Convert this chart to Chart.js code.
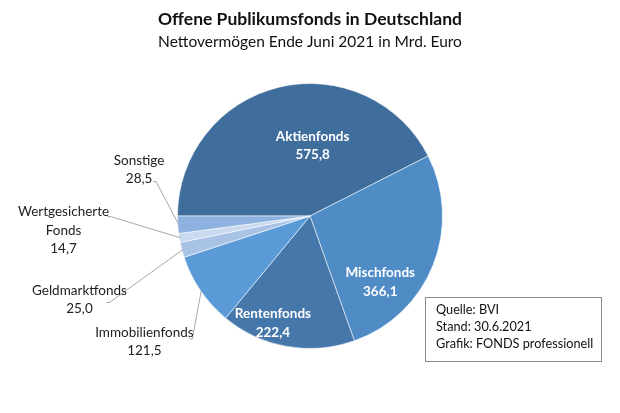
<!DOCTYPE html>
<html>
<head>
<meta charset="utf-8">
<script src="https://cdn.jsdelivr.net/npm/chart.js@4.4.1/dist/chart.umd.min.js"></script>
<style>
  html, body { margin: 0; padding: 0; background: #ffffff; }
  #wrap { width: 620px; height: 413px; position: relative; }
</style>
</head>
<body>
<div id="wrap"><canvas id="c" width="620" height="413"></canvas></div>
<script>
// ---- data ----
const categories = ["Aktienfonds", "Mischfonds", "Rentenfonds", "Immobilienfonds", "Geldmarktfonds", "Wertgesicherte Fonds", "Sonstige"];
const values = [575.8, 366.1, 222.4, 121.5, 25.0, 14.7, 28.5];
const valueLabels = ["575,8", "366,1", "222,4", "121,5", "25,0", "14,7", "28,5"];
const labelLines = [["Aktienfonds"], ["Mischfonds"], ["Rentenfonds"], ["Immobilienfonds"], ["Geldmarktfonds"], ["Wertgesicherte", "Fonds"], ["Sonstige"]];
const titleText = "Offene Publikumsfonds in Deutschland";
const subtitleText = "Nettovermögen Ende Juni 2021 in Mrd. Euro";
const sourceLines = ["Quelle: BVI", "Stand: 30.6.2021", "Grafik: FONDS professionell"];

// ---- styles ----
const colors = ["#3f6d9c", "#4f8cc6", "#4677ab", "#5a9ad7", "#a8c3e5", "#c9d9ef", "#8db2df"];
const FONT = "Lato, 'Open Sans', sans-serif";
// label layout: inside flag, anchor relative to center (in radius units), leader start offsets (px from anchor)
const labelLayout = [
  { inside: true,  fx: 0.02,  fy: -0.53 },
  { inside: true,  fx: 0.53,  fy: 0.50 },
  { inside: true,  fx: -0.28, fy: 0.81 },
  { inside: false, fx: -1.25, fy: 0.95, lx: 48, ly: -3 },
  { inside: false, fx: -1.74, fy: 0.63, lx: 30, ly: 3 },
  { inside: false, fx: -1.86, fy: 0.11, lx: 47, ly: -14 },
  { inside: false, fx: -1.29, fy: -0.35, lx: 17, ly: 12 }
];

const labelPlugin = {
  id: "labels",
  afterDatasetsDraw(chart) {
    const ctx = chart.ctx;
    const meta = chart.getDatasetMeta(0);
    ctx.save();
    // titles
    ctx.fillStyle = "#111";
    ctx.textAlign = "center";
    ctx.textBaseline = "middle";
    ctx.font = "bold 17.5px " + FONT;
    ctx.fillText(titleText, 310, 19);
    ctx.font = "15.5px " + FONT;
    ctx.fillText(subtitleText, 310, 42);

    meta.data.forEach((arc, i) => {
      const p = arc.getProps(["x", "y", "startAngle", "endAngle", "outerRadius"], true);
      const R = p.outerRadius;
      const L = labelLayout[i];
      const ax = p.x + L.fx * R;
      const ay = p.y + L.fy * R;
      const lines = labelLines[i].concat([valueLabels[i]]);
      const lh = 18.5;
      const top = ay - (lines.length - 1) * lh / 2;
      if (L.inside) {
        ctx.fillStyle = "#ffffff";
        ctx.font = "bold 13.5px " + FONT;
      } else {
        ctx.fillStyle = "#222222";
        ctx.font = "13.5px " + FONT;
        // leader line
        const mid = (p.startAngle + p.endAngle) / 2;
        const ex = p.x + Math.cos(mid) * (R - 1);
        const ey = p.y + Math.sin(mid) * (R - 1);
        ctx.strokeStyle = "#a6a6a6";
        ctx.lineWidth = 1;
        ctx.beginPath();
        ctx.moveTo(ax + L.lx - 3, ay + L.ly);
        ctx.lineTo(ax + L.lx, ay + L.ly);
        ctx.lineTo(ex, ey);
        ctx.stroke();
      }
      lines.forEach((t, k) => ctx.fillText(t, ax, top + k * lh));
    });

    // source box
    ctx.strokeStyle = "#8c8c8c";
    ctx.lineWidth = 1;
    ctx.strokeRect(425.5, 297.5, 176, 64);
    ctx.fillStyle = "#111";
    ctx.textAlign = "left";
    ctx.font = "12.7px " + FONT;
    sourceLines.forEach((t, k) => ctx.fillText(t, 436, 310 + k * 17));
    ctx.restore();
  }
};

new Chart(document.getElementById("c"), {
  type: "pie",
  data: {
    labels: categories,
    datasets: [{
      data: values,
      backgroundColor: colors,
      borderColor: "rgba(255,255,255,0.55)",
      borderWidth: 1
    }]
  },
  options: {
    responsive: false,
    animation: false,
    rotation: -90,
    layout: { padding: { left: 177, right: 177, top: 83, bottom: 64 } },
    plugins: {
      legend: { display: false },
      tooltip: { enabled: false },
      title: { display: false }
    }
  },
  plugins: [labelPlugin]
});
</script>
</body>
</html>
